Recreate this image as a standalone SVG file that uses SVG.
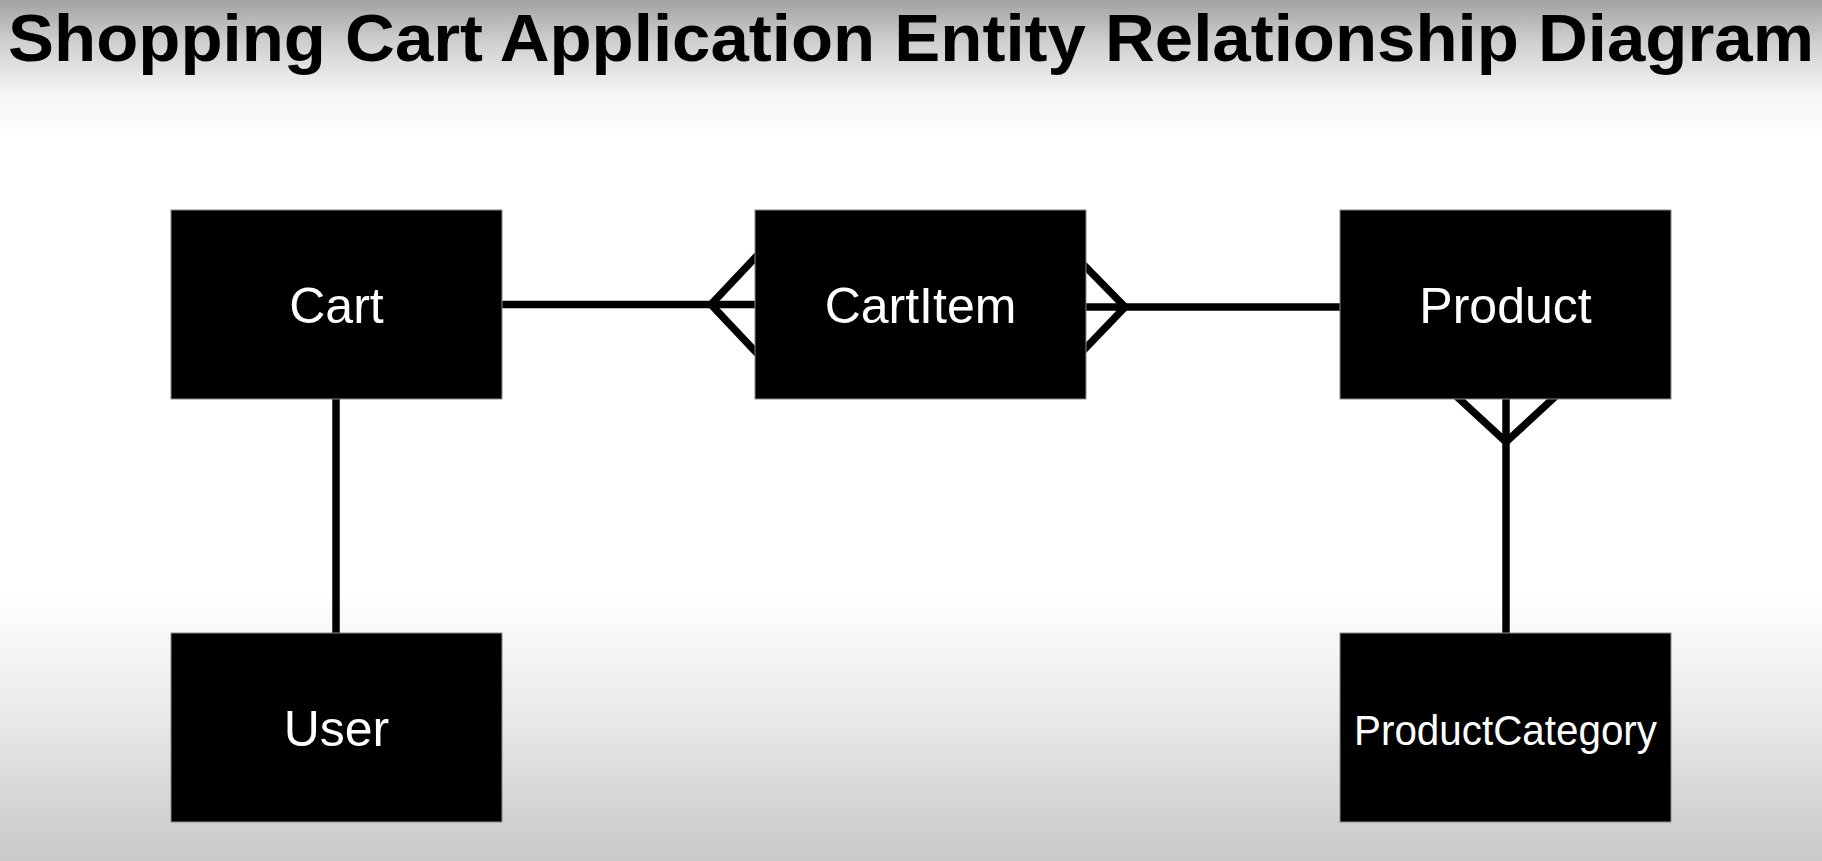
<svg xmlns="http://www.w3.org/2000/svg" width="1822" height="861" viewBox="0 0 1822 861">
  <defs>
    <linearGradient id="bg" x1="0" y1="0" x2="0" y2="1">
      <stop offset="0" stop-color="#a2a2a2"/>
      <stop offset="0.05" stop-color="#d0d0d0"/>
      <stop offset="0.11" stop-color="#f5f5f5"/>
      <stop offset="0.16" stop-color="#ffffff"/>
      <stop offset="0.69" stop-color="#ffffff"/>
      <stop offset="0.82" stop-color="#ebebeb"/>
      <stop offset="1" stop-color="#c9c9c9"/>
    </linearGradient>
    <style>
      .box { fill: #000; stroke: #8a8a8a; stroke-width: 1; }
      .lbl { fill: #fff; font-family: "Liberation Sans", Arial, Helvetica, sans-serif; font-size: 50px; text-anchor: middle; }
      .rel { fill: none; stroke: #000; stroke-width: 7.5; stroke-linejoin: miter; }
      .title { fill: #000; font-family: "Liberation Sans", Arial, Helvetica, sans-serif; font-weight: bold; font-size: 66px; }
    </style>
  </defs>
  <rect x="0" y="0" width="1822" height="861" fill="url(#bg)"/>
  <text class="title" x="8" y="61" textLength="1806" lengthAdjust="spacingAndGlyphs">Shopping Cart Application Entity Relationship Diagram</text>

  <g id="connectors">
    <!-- Cart - CartItem (many at CartItem) -->
    <path class="rel" d="M501 304.5 H760"/>
    <path class="rel" d="M761 251.5 L711 304.5 L761 357.5"/>
    <!-- CartItem - Product (many at CartItem) -->
    <path class="rel" d="M1080 307 H1345"/>
    <path class="rel" d="M1080 261 L1125 307 L1080 354"/>
    <!-- Product - ProductCategory (many at Product) -->
    <path class="rel" d="M1506 395 V638"/>
    <path class="rel" d="M1454 394 L1506 442 L1558 394"/>
    <!-- Cart - User -->
    <path class="rel" d="M336 395 V638"/>
  </g>

  <g id="node-cart">
    <rect class="box" x="171" y="210" width="331" height="189"/>
    <text class="lbl" x="336.5" y="323">Cart</text>
  </g>
  <g id="node-cartitem">
    <rect class="box" x="755" y="210" width="331" height="189"/>
    <text class="lbl" x="920.5" y="323">CartItem</text>
  </g>
  <g id="node-product">
    <rect class="box" x="1340" y="210" width="331" height="189"/>
    <text class="lbl" x="1505.5" y="323">Product</text>
  </g>
  <g id="node-user">
    <rect class="box" x="171" y="633" width="331" height="189"/>
    <text class="lbl" x="336.5" y="746">User</text>
  </g>
  <g id="node-productcategory">
    <rect class="box" x="1340" y="633" width="331" height="189"/>
    <text class="lbl" x="1505.5" y="745" style="font-size:42px" textLength="303" lengthAdjust="spacingAndGlyphs">ProductCategory</text>
  </g>
</svg>
